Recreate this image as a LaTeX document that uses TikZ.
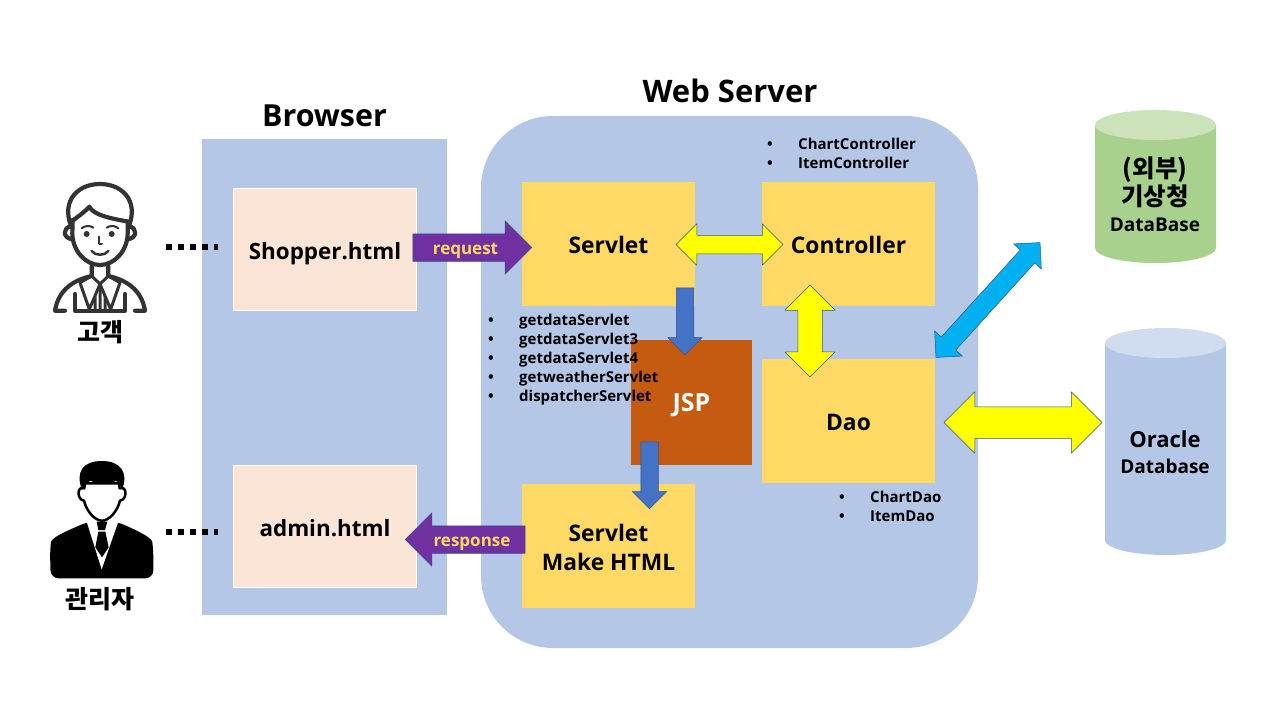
\documentclass[tikz,border=0pt]{standalone}
\usepackage{fontspec}
\setmainfont{Open Sans}
\newfontfamily\cjk{Noto Sans CJK KR}
\usetikzlibrary{shapes.arrows}
\definecolor{panelblue}{HTML}{B4C7E7}
\definecolor{peach}{HTML}{FBE5D6}
\definecolor{gold}{HTML}{FFD966}
\definecolor{rust}{HTML}{C55A11}
\definecolor{arrowpurple}{HTML}{7030A0}
\definecolor{arrowblue}{HTML}{4472C4}
\definecolor{skyblue}{HTML}{00B0F0}
\definecolor{edgeblue}{HTML}{2F528F}
\definecolor{dbgreen}{HTML}{A9D18E}
\definecolor{dbgreentop}{HTML}{CBE2BB}
\definecolor{dbbluetop}{HTML}{D0DCF0}
\definecolor{inkgray}{HTML}{333333}
\definecolor{brightyellow}{HTML}{FFFF00}
\newcommand{\fsz}[1]{\fontsize{#1}{#1}\selectfont}
\tikzset{
	panel/.style={fill=panelblue,draw=none,anchor=north west,inner sep=0pt,outer sep=0pt},
	htmlbox/.style={fill=peach,draw=white,line width=1.5pt,anchor=north west,inner sep=0pt,outer sep=0pt,minimum width=183pt,minimum height=122pt,font=\fsz{22.4}\bfseries,text height=21pt,text depth=2pt},
	goldbox/.style={fill=gold,draw=none,anchor=north west,inner sep=0pt,outer sep=0pt,minimum width=173pt,minimum height=124pt,align=center,font=\fsz{22.8}\bfseries,text height=20pt},
	title/.style={font=\fsz{31}\bfseries},
	actor/.style={font=\cjk\fsz{25}\bfseries},
	minilist/.style={font=\fsz{15}\bfseries,inner sep=0pt,anchor=north west,align=left},
	flat arrow/.style={single arrow,anchor=center,minimum height=#1,font=\fsz{17}\bfseries,text height=14.5pt,text depth=1.5pt,inner ysep=5.5pt,inner xsep=0pt,single arrow head extend=13pt,single arrow tip angle=90},
	down arrow/.style={single arrow,rotate=-90,fill=arrowblue,draw=edgeblue,line width=.5pt,minimum height=#1,inner sep=8.5pt,text width=0pt,text height=0pt,text depth=0pt,single arrow head extend=8.5pt,single arrow tip angle=90},
	both arrow/.style args={#1/#2/#3}{double arrow,draw=edgeblue,line width=.5pt,minimum height=#1,inner sep=#2,text width=0pt,text height=0pt,text depth=0pt,double arrow head extend=#3,double arrow tip angle=90},
	dotline/.style={line width=5.5pt,dash pattern=on 5.7pt off 6.3pt},
	personline/.style={draw=inkgray,line width=4.2pt,line cap=round,line join=round},
}
\begin{document}
\begin{tikzpicture}[x=1pt,y=-1pt,line join=round]
	\useasboundingbox (0,0) rectangle (1280,720);
	%%%%Khach
	\tikzset{gogaek/.pic={
		\draw[personline] (122,165) .. controls (95,90) and (145,42) .. (210,42) .. controls (275,42) and (325,90) .. (298,165);
		\draw[personline] (128,152) .. controls (150,135) and (165,125) .. (178,110) .. controls (190,135) and (240,145) .. (295,155);
		\draw[personline] (128,150) -- (127,190) .. controls (127,240) and (165,285) .. (210,285) .. controls (255,285) and (293,240) .. (293,190) -- (293,155);
		%tai
		\draw[personline] (122,170) .. controls (100,170) and (95,205) .. (128,208);
		\draw[personline] (298,170) .. controls (320,170) and (325,205) .. (292,208);
		%mat
		\fill[inkgray] (170,192) circle (9) (245,192) circle (9);
		\draw[personline,line width=2pt] (155,175) .. controls (165,166) and (180,166) .. (190,173);
		\draw[personline,line width=2pt] (230,173) .. controls (240,166) and (255,166) .. (265,175);
		\draw[personline,line width=2pt] (207,200) -- (207,222) -- (216,222);
		\draw[personline,line width=2.5pt] (185,243) .. controls (195,258) and (225,258) .. (235,243);
		%than
		\draw[personline] (185,290) -- (185,318) .. controls (130,330) and (85,360) .. (75,422) -- (105,422);
		\draw[personline] (235,290) -- (235,318) .. controls (290,330) and (335,360) .. (345,422) -- (315,422);
		\draw[personline] (135,372) -- (135,422) -- (285,422) -- (285,372);
		\draw[personline,line width=3pt] (185,318) -- (150,338) -- (178,418) -- (210,342) -- (242,418) -- (270,338) -- (235,318);
		\draw[personline,line width=3pt] (185,318) -- (210,342) -- (235,318) (210,342) -- (210,418) (195,380) -- (195,418) (225,380) -- (225,418);
	}}
	%%%%Quan ly
	\tikzset{gwanrija/.pic={
		\fill[black,rounded corners=8pt] (62,385) -- (60,300) .. controls (65,260) and (130,235) .. (172,215) -- (262,215) .. controls (305,235) and (365,260) .. (370,300) -- (370,385) --cycle;
		\fill[white] (170,215) -- (215,358) -- (265,215) -- (232,205) -- (200,205) --cycle;
		\fill[black] (200,215) -- (232,215) -- (225,240) -- (205,240) --cycle;
		\fill[black] (205,245) -- (226,245) -- (236,292) -- (216,322) -- (196,292) --cycle;
		%dau
		\fill[white,draw=black,line width=2.5pt] (165,100) -- (163,115) .. controls (140,105) and (140,150) .. (162,152) .. controls (170,185) and (195,212) .. (216,212) .. controls (237,212) and (262,185) .. (270,152) .. controls (292,150) and (292,105) .. (269,115) -- (267,100) --cycle;
		\fill[black] (156,120) .. controls (135,65) and (160,33) .. (215,33) .. controls (270,33) and (297,65) .. (276,120) .. controls (272,105) and (266,95) .. (258,93) .. controls (225,108) and (195,100) .. (182,92) .. controls (170,98) and (162,108) .. (156,120) --cycle;
	}}
	%%%%Khung
	\node[panel,minimum width=245pt,minimum height=476pt] (browser) at (202,139) {};
	\node[panel,rounded corners=72pt,minimum width=497pt,minimum height=532pt] (webserver) at (481,116) {};
	\node[title,font=\fsz{30.4}\bfseries] (browsertitle) at (324.5,115.5) {Browser};
	\node[title] (webtitle) at (730,91) {Web Server};
	%%%%O trong
	\node[htmlbox] (shopper) at (233.5,188.5) {Shopper.html};
	\node[htmlbox] (admin) at (233.5,465.5) {admin.html};
	\node[goldbox] (servlet) at (522,182) {Servlet};
	\node[goldbox] (controller) at (762,182) {Controller};
	\node[goldbox] (dao) at (762,358.5) {Dao};
	\node[goldbox,text height=50pt] (makehtml) at (522,483.5) {Servlet\\[6pt]Make HTML};
	\node[goldbox,fill=rust,text=white,minimum width=121pt,minimum height=125pt,font=\fsz{25}\bfseries,text height=24pt] (jsp) at (631,340) {JSP};
	%%%%Danh sach
	\node[minilist] (servletlist) at (488,314) {%
		\begin{tabular}{@{}p{31pt}@{}l@{}}
		\textbullet & getdataServlet\\[3.2pt]
		\textbullet & getdataServlet3\\[3.2pt]
		\textbullet & getdataServlet4\\[3.2pt]
		\textbullet & getweatherServlet\\[3.2pt]
		\textbullet & dispatcherServlet
		\end{tabular}};
	\node[minilist] (controllerlist) at (767,138) {%
		\begin{tabular}{@{}p{31pt}@{}l@{}}
		\textbullet & ChartController\\[3.2pt]
		\textbullet & ItemController
		\end{tabular}};
	\node[minilist] (daolist) at (839,491) {%
		\begin{tabular}{@{}p{31pt}@{}l@{}}
		\textbullet & ChartDao\\[3.2pt]
		\textbullet & ItemDao
		\end{tabular}};
	%%%%Co so du lieu
	\fill[dbgreen] (1095,125) -- (1095,248) arc (180:0:60.5 and 15) -- (1216,125) --cycle;
	\fill[dbgreentop] (1155.5,125) ellipse (60.5 and 15);
	\fill[panelblue] (1105,343) -- (1105,540) arc (180:0:60.5 and 15) -- (1226,343) --cycle;
	\fill[dbbluetop] (1165.5,343) ellipse (60.5 and 15);
	\node[align=center,font=\cjk\fsz{24.5}\bfseries] (weatherko) at (1155,182.5) {(외부)\\[1pt]기상청};
	\node[font=\fsz{19}\bfseries] (weatheren) at (1155,225) {DataBase};
	\node[font=\fsz{22}\bfseries] (oraclelab) at (1165,439) {Oracle};
	\node[font=\fsz{19}\bfseries] (oraclelabb) at (1165,466) {Database};
	%%%%Mui ten
	\node[flat arrow=119pt,fill=arrowpurple,draw=edgeblue,line width=.5pt,text=gold] (request) at (465.5,247.5) {request};
	\node[flat arrow=120pt,shape border rotate=180,fill=arrowpurple,draw=edgeblue,line width=.5pt,text=gold] (response) at (472,539.5) {response};
	\node[down arrow=67pt] (todown) at (685,317) {};
	\node[down arrow=67pt] (tomake) at (649.5,471) {};
	\node[both arrow=107pt/9pt/11.5pt,fill=brightyellow] (servletctl) at (729.5,244.5) {};
	\node[both arrow=92pt/12pt/13pt,fill=brightyellow,rotate=90] (ctldao) at (810,331) {};
	\node[both arrow=158pt/15.5pt/15pt,fill=brightyellow] (daooracle) at (1023,422.5) {};
	\node[both arrow=155pt/9.5pt/9pt,fill=skyblue,rotate=47.8] (daoweather) at (988,300) {};
	%%%%Nguoi
	\path (30,170) pic[scale=1/3]{gogaek};
	\path (30,450) pic[scale=1/3]{gwanrija};
	\node[actor] (customer) at (100,332) {고객};
	\node[actor] (manager) at (100,599) {관리자};
	\coordinate (customerdot) at (166,247);
	\coordinate (shopperdot) at (218,247);
	\coordinate (managerdot) at (166,532);
	\coordinate (admindot) at (218,532);
	\draw[dotline] (customerdot) -- (shopperdot);
	\draw[dotline] (managerdot) -- (admindot);
\end{tikzpicture}
\end{document}
